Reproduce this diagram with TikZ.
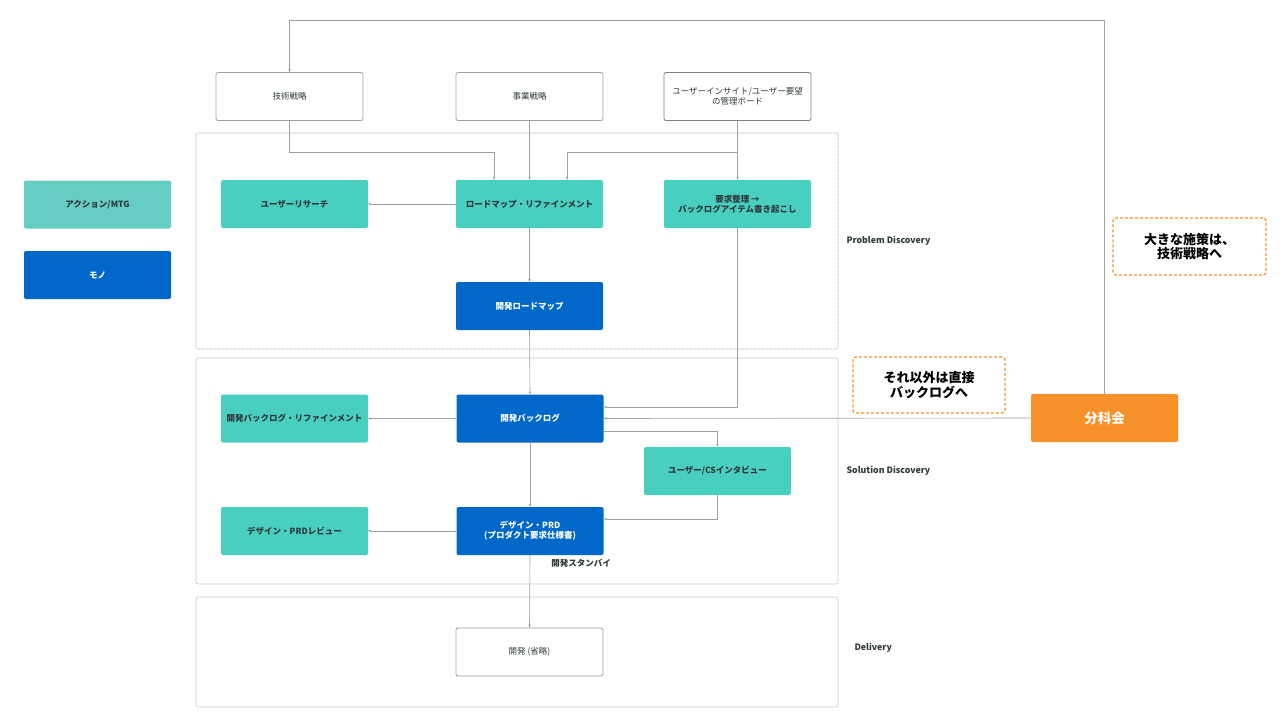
\documentclass[tikz,border=0pt]{standalone}
\usepackage{fontspec}
\setmainfont{Noto Sans CJK JP}
\usetikzlibrary{arrows.meta}
\definecolor{tealbox}{HTML}{48CFC0}
\definecolor{teallegend}{HTML}{66CDC2}
\definecolor{bluebox}{HTML}{0068C9}
\definecolor{orangebox}{HTML}{F7912A}
\definecolor{linegray}{HTML}{A0A0A0}
\definecolor{textdark}{HTML}{2F3A3A}
\tikzset{
  base/.style={rounded corners=2pt, minimum width=147pt, minimum height=48pt, align=center, inner sep=0pt, font=\fontsize{8.5}{10}\selectfont},
  action/.style={base, fill=tealbox, text=textdark, font=\bfseries\fontsize{8.5}{10}\selectfont},
  thing/.style={base, fill=bluebox, text=white, font=\bfseries\fontsize{8.5}{10}\selectfont},
  plain/.style={base, draw=linegray, line width=0.8pt, fill=white, text=textdark},
  group/.style={draw=linegray!80, line width=0.6pt, dash pattern=on 1pt off 0.6pt, rounded corners=2pt},
  note/.style={draw=orangebox, line width=1.3pt, dash pattern=on 3pt off 2pt, rounded corners=3pt, fill=white, align=center, inner sep=0pt, font=\bfseries\fontsize{13}{14.5}\selectfont, text=black},
  conn/.style={draw=linegray, line width=0.6pt, -{Stealth[length=3pt,width=2.6pt]}},
  glabel/.style={anchor=west, font=\bfseries\fontsize{8.8}{10}\selectfont, text=textdark}
}
\begin{document}
\begin{tikzpicture}[x=1pt,y=-1pt]
\useasboundingbox (0,0) rectangle (1280,725);
% groups
\draw[group] (196,133) rectangle (838,349);
\draw[group] (196,358) rectangle (838,584);
\draw[group] (196,597) rectangle (838,707);
\node[glabel] (lpd) at (843,241) {Problem Discovery};
\node[glabel] (lsd) at (843,471) {Solution Discovery};
\node[glabel] (ldl) at (851,648) {Delivery};
% legend
\node[action, fill=teallegend] (leg1) at (97.5,204.5) {アクション/MTG};
\node[thing] (leg2) at (97.5,275) {モノ};
% top boxes
\node[plain] (tech) at (289.5,96.5) {技術戦略};
\node[plain] (biz) at (529.5,96.5) {事業戦略};
\node[plain, draw=gray] (insight) at (737.5,96.5) {ユーザーインサイト/ユーザー要望\\の管理ボード};
% problem discovery
\node[action] (research) at (294.5,204) {ユーザーリサーチ};
\node[action] (roadref) at (529.5,204) {ロードマップ・リファインメント};
\node[action] (youkyu) at (737.5,204) {要求整理 →\\バックログアイテム書き起こし};
\node[thing] (devroad) at (529.5,306) {開発ロードマップ};
% solution discovery
\node[action] (blref) at (294.5,418.5) {開発バックログ・リファインメント};
\node[thing] (backlog) at (530,418.5) {開発バックログ};
\node[action] (cs) at (717.5,471) {ユーザー/CSインタビュー};
\node[action] (prdrev) at (294.5,531) {デザイン・PRDレビュー};
\node[thing] (prd) at (530,531) {デザイン・PRD\\(プロダクト要求仕様書)};
\node[font=\bfseries\fontsize{8.5}{10}\selectfont, text=textdark] (standby) at (581,563) {開発スタンバイ};
% delivery
\node[plain] (dev) at (529.5,652) {開発 (省略)};
% notes and 分科会
\node[note, minimum width=153pt, minimum height=57pt] (note1) at (1189.5,246.5) {大きな施策は、\\技術戦略へ};
\node[note, minimum width=152pt, minimum height=56pt] (note2) at (929,385) {それ以外は直接\\バックログへ};
\node[base, fill=orangebox, text=white, font=\bfseries\fontsize{13.5}{15}\selectfont] (bunka) at (1104.5,418) {分科会};
% connectors
\draw[conn] (bunka.north) -- (bunka.north |- 0,20) -| (tech.north);
\draw[conn] (tech.south) -- (tech.south |- 0,152) -| ([xshift=-35.5pt]roadref.north);
\draw[conn] (biz.south) -- (roadref.north);
\draw[conn] (insight.south) -- (youkyu.north);
\draw[conn] (insight.south |- 0,152) -| ([xshift=37.5pt]roadref.north);
\draw[conn] (roadref.west) -- (research.east);
\draw[conn] (roadref.south) -- (devroad.north);
\draw[conn] (devroad.south) -- (backlog.north);
\draw[conn] (youkyu.south) |- ([yshift=11.5pt]backlog.east);
\draw[conn] (bunka.west) -- (backlog.east);
\draw[conn] (backlog.west) -- (blref.east);
\draw[conn] ([yshift=-12.5pt]backlog.east) -| (cs.north);
\draw[conn] (cs.south) |- ([yshift=12pt]prd.east);
\draw[conn] (backlog.south) -- (prd.north);
\draw[conn] (prd.west) -- (prdrev.east);
\draw[conn] (prd.south) -- (dev.north);
\end{tikzpicture}
\end{document}
